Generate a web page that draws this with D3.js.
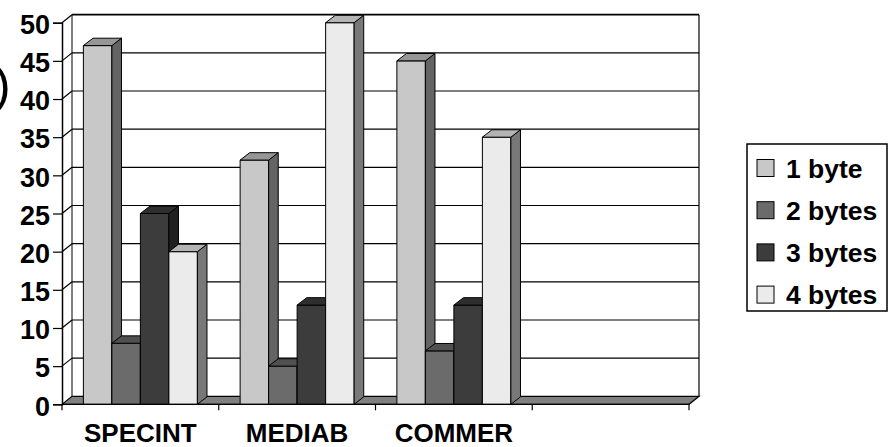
<!DOCTYPE html>
<html>
<head>
<meta charset="utf-8">
<script src="https://cdn.jsdelivr.net/npm/d3@7"></script>
<style>
  html, body { margin: 0; padding: 0; background: #fff; }
  svg { display: block; }
  text { font-family: "Liberation Sans", Arial, sans-serif; }
</style>
</head>
<body>
<svg id="chart" width="895" height="447"></svg>
<script>
// Share of accesses by operand width, per benchmark suite
const categories = ["SPECINT", "MEDIAB", "COMMER", ""];
const seriesNames = ["1 byte", "2 bytes", "3 bytes", "4 bytes"];
const oneByte   = [47, 32, 45, null];
const twoBytes  = [8, 5, 7, null];
const threeBytes = [25, 13, 13, null];
const fourBytes = [20, 50, 35, null];
const yTicks = [0, 5, 10, 15, 20, 25, 30, 35, 40, 45, 50];

const seriesValues = [oneByte, twoBytes, threeBytes, fourBytes];

// Face shades for each series: front, top, side
const palette = [
  { front: "#c8c8c8", top: "#969696", side: "#646464" },
  { front: "#6b6b6b", top: "#505050", side: "#484848" },
  { front: "#3c3c3c", top: "#2e2e2e", side: "#202020" },
  { front: "#ebebeb", top: "#b4b4b4", side: "#787878" }
];

const svg = d3.select("#chart");

// Front plane of the plot and the oblique depth offset
const x0 = 62, x1 = 689;
const yTop = 22.7, yBase = 404.3;
const depth = { dx: 10, dy: -8 };
const barDepth = { dx: 9.6, dy: -7.4 };

const y = d3.scaleLinear().domain([0, 50]).range([yBase, yTop]);
const xCat = d3.scaleBand().domain(categories).range([x0, x1]).padding(0);
const bw = xCat.bandwidth();
const gap = bw * 1.5 / 5.5;
const xSer = d3.scaleBand().domain(seriesNames).range([gap / 2, bw - gap / 2]).padding(0);

const pts = arr => arr.map(p => p.join(",")).join(" ");

// Back wall
svg.append("polygon")
  .attr("points", pts([[x0 + depth.dx, y(50) + depth.dy], [x1 + depth.dx, y(50) + depth.dy],
                       [x1 + depth.dx, yBase + depth.dy], [x0 + depth.dx, yBase + depth.dy]]))
  .attr("fill", "#fff");

// Gridlines on the back wall and the left wall
const grid = svg.append("g");
yTicks.filter(t => t > 0).forEach(t => {
  grid.append("line")
    .attr("x1", x0 + depth.dx).attr("x2", x1 + depth.dx)
    .attr("y1", y(t) + depth.dy).attr("y2", y(t) + depth.dy)
    .attr("stroke", "#000").attr("stroke-width", t === 50 ? 1.8 : 1.2);
  grid.append("line")
    .attr("x1", x0).attr("x2", x0 + depth.dx)
    .attr("y1", y(t)).attr("y2", y(t) + depth.dy)
    .attr("stroke", "#000").attr("stroke-width", 1.2);
});
// Wall edges
grid.append("line")
  .attr("x1", x1 + depth.dx).attr("x2", x1 + depth.dx)
  .attr("y1", y(50) + depth.dy).attr("y2", yBase + depth.dy)
  .attr("stroke", "#000").attr("stroke-width", 1.2);
grid.append("line")
  .attr("x1", x0 + depth.dx).attr("x2", x0 + depth.dx)
  .attr("y1", y(50) + depth.dy).attr("y2", yBase + depth.dy)
  .attr("stroke", "#000").attr("stroke-width", 1);

// Floor
svg.append("polygon")
  .attr("points", pts([[x0, yBase], [x1, yBase], [x1 + depth.dx, yBase + depth.dy], [x0 + depth.dx, yBase + depth.dy]]))
  .attr("fill", "#808080").attr("stroke", "#000").attr("stroke-width", 1.2);

// Bars, drawn left to right so that each hides the side of its neighbour
const bars = svg.append("g").attr("stroke", "#000").attr("stroke-width", 1).attr("stroke-linejoin", "round");
categories.forEach((cat, ci) => {
  seriesNames.forEach((name, si) => {
    const v = seriesValues[si][ci];
    if (v == null) return;
    const xl = xCat(cat) + xSer(name);
    const xr = xl + xSer.bandwidth();
    const yt = y(v);
    const { dx, dy } = barDepth;
    const c = palette[si];
    bars.append("polygon")
      .attr("points", pts([[xl, yBase], [xr, yBase], [xr, yt], [xl, yt]]))
      .attr("fill", c.front);
    bars.append("polygon")
      .attr("points", pts([[xr, yBase], [xr + dx, yBase + dy], [xr + dx, yt + dy], [xr, yt]]))
      .attr("fill", c.side);
    bars.append("polygon")
      .attr("points", pts([[xl, yt], [xr, yt], [xr + dx, yt + dy], [xl + dx, yt + dy]]))
      .attr("fill", c.top);
  });
});

// Value axis
const yAxis = svg.append("g").attr("transform", `translate(${x0},0)`)
  .call(d3.axisLeft(y).tickValues(yTicks).tickSize(9).tickPadding(3).tickFormat(d3.format("d")));
yAxis.select(".domain").attr("stroke", "#000").attr("stroke-width", 1.5);
yAxis.selectAll(".tick line").attr("stroke", "#000").attr("stroke-width", 1.2);
yAxis.selectAll(".tick text")
  .attr("font-family", "'Liberation Sans', Arial, sans-serif")
  .attr("font-size", 27).attr("font-weight", "bold").attr("fill", "#000")
  .attr("dy", "0.4em");

// Category axis
const xAxis = svg.append("g").attr("transform", `translate(0,${yBase})`);
xAxis.append("line").attr("x1", x0).attr("x2", x1).attr("stroke", "#000").attr("stroke-width", 1.2);
categories.map(c => xCat(c)).concat([x1]).forEach(xv => {
  xAxis.append("line").attr("x1", xv).attr("x2", xv).attr("y1", 0).attr("y2", 6)
    .attr("stroke", "#000").attr("stroke-width", 1.2);
});
xAxis.selectAll("text.cat").data(categories).join("text")
  .attr("class", "cat")
  .attr("x", d => xCat(d) + bw / 2).attr("y", 37.5)
  .attr("text-anchor", "middle")
  .attr("font-size", 26).attr("font-weight", "bold").attr("fill", "#000")
  .text(d => d);

// Legend
const legend = svg.append("g");
legend.append("rect").attr("x", 747).attr("y", 144).attr("width", 140).attr("height", 167)
  .attr("fill", "#fff").attr("stroke", "#000").attr("stroke-width", 1.5);
const rows = legend.selectAll("g.row").data(seriesNames).join("g")
  .attr("class", "row")
  .attr("transform", (d, i) => `translate(757,${168 + i * 42.2})`);
rows.append("rect").attr("x", 0).attr("y", -8.5).attr("width", 17).attr("height", 17)
  .attr("fill", (d, i) => palette[i].front).attr("stroke", "#000").attr("stroke-width", 1);
rows.append("text").attr("x", 29).attr("y", 9.5)
  .attr("font-size", 26.5).attr("font-weight", "bold").attr("fill", "#000")
  .text(d => d);

// Closing parenthesis of the caption at the left edge
svg.append("text").attr("x", -6).attr("y", 102)
  .attr("font-size", 50).attr("fill", "#000")
  .text(")");
</script>
</body>
</html>
